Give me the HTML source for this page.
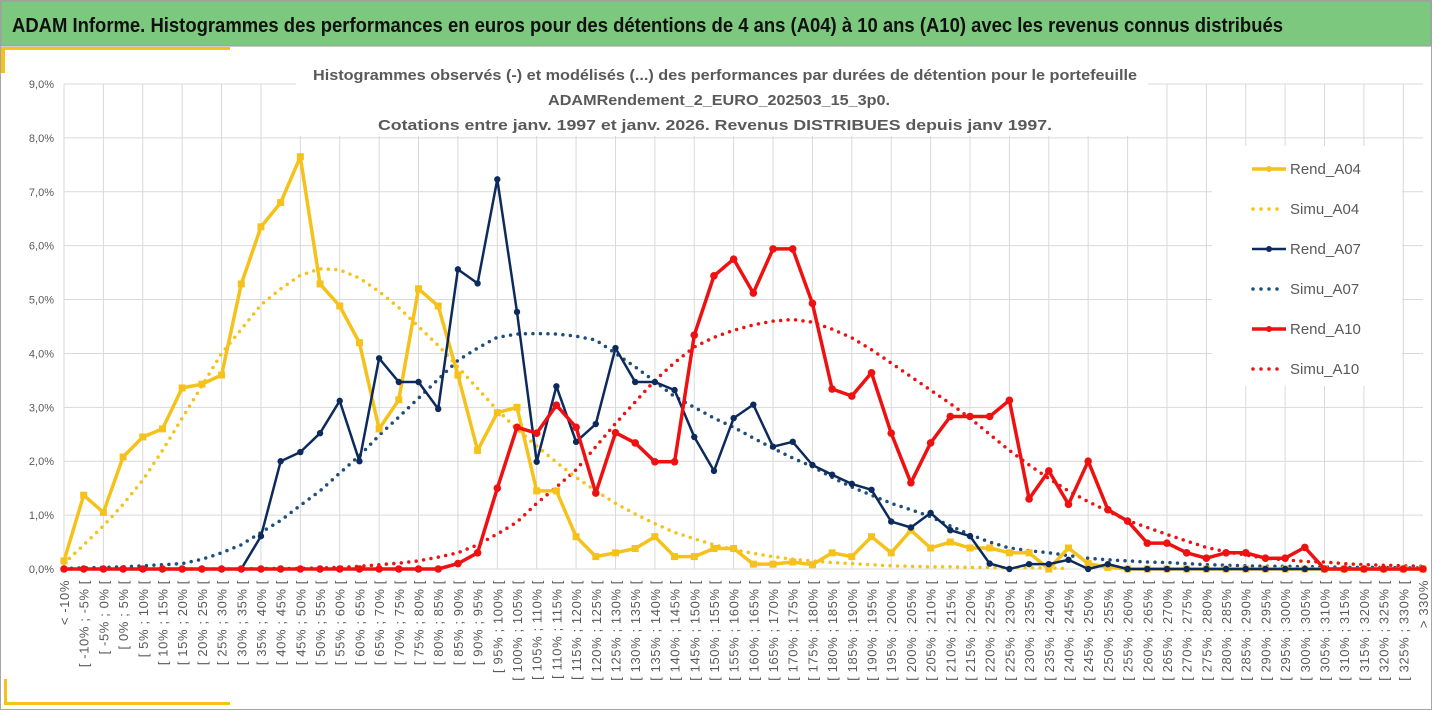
<!DOCTYPE html>
<html><head><meta charset="utf-8"><style>
body{margin:0;background:#fff;}
svg{display:block;font-family:"Liberation Sans",sans-serif;}
</style></head><body>
<svg id="chart" width="1432" height="710" xmlns="http://www.w3.org/2000/svg">
<rect x="0.5" y="0.5" width="1431" height="709" fill="#fff" stroke="#a6a6a6"/>
<rect x="1" y="1" width="1430" height="45" fill="#7dc87f" stroke="#9a9a9a"/>
<text x="12" y="32" font-size="20" font-weight="bold" fill="#111" textLength="1271" lengthAdjust="spacingAndGlyphs">ADAM Informe. Histogrammes des performances en euros pour des détentions de 4 ans (A04) à 10 ans (A10) avec les revenus connus distribués</text>
<rect x="4" y="47" width="226" height="3" fill="#f5c21b"/>
<rect x="1" y="47" width="4" height="26" fill="#f5c21b"/>
<rect x="4" y="702" width="226" height="3" fill="#f5c21b"/>
<rect x="4" y="679" width="3" height="26" fill="#f5c21b"/>
<g id="grid"></g>
<g id="yaxis"></g>
<g id="xaxis"></g>
<rect x="296" y="56" width="852" height="80" fill="#fff"/>
<rect x="1212" y="146" width="190" height="240" fill="#fff"/>
<g id="series"></g>
<g font-size="15" font-weight="bold" fill="#595959">
<text x="313" y="80" textLength="824" lengthAdjust="spacingAndGlyphs">Histogrammes observés (-) et modélisés (...) des performances par durées de détention pour le portefeuille</text>
<text x="548" y="105" textLength="342" lengthAdjust="spacingAndGlyphs">ADAMRendement_2_EURO_202503_15_3p0.</text>
<text x="378" y="130" textLength="674" lengthAdjust="spacingAndGlyphs">Cotations entre janv. 1997 et janv. 2026. Revenus DISTRIBUES depuis janv 1997.</text>
</g>
<g id="legend"></g>
</svg>
<script>
const categories = ["< -10%"];
for (let v = -10; v <= 325; v += 5) categories.push("[ " + v + "% ; " + (v + 5) + "% [");
categories.push("> 330%");
const yTicks = [0,1,2,3,4,5,6,7,8,9];
const yTickLabels = ["0,0%","1,0%","2,0%","3,0%","4,0%","5,0%","6,0%","7,0%","8,0%","9,0%"];
const rendA04 = [0.15,1.37,1.05,2.08,2.45,2.6,3.36,3.43,3.6,5.29,6.35,6.8,7.65,5.29,4.88,4.2,2.6,3.14,5.2,4.88,3.6,2.2,2.9,3.0,1.45,1.45,0.6,0.23,0.3,0.38,0.6,0.23,0.23,0.38,0.38,0.09,0.09,0.13,0.08,0.3,0.23,0.6,0.3,0.72,0.39,0.5,0.39,0.39,0.3,0.3,0,0.39,0.1,0.03,0,0,0,0,0,0,0,0,0,0,0,0,0,0,0,0];
const simuA04 = [0.1,0.45,0.8,1.2,1.65,2.2,2.8,3.4,4.0,4.45,4.9,5.2,5.45,5.57,5.55,5.4,5.15,4.85,4.5,4.15,3.75,3.35,2.95,2.6,2.28,1.98,1.7,1.45,1.22,1.02,0.84,0.68,0.56,0.45,0.36,0.29,0.23,0.18,0.15,0.12,0.1,0.08,0.06,0.05,0.04,0.04,0.03,0.03,0.02,0.02,0.02,0.01];
const rendA07 = [0,0,0,0,0,0,0,0,0,0,0.61,2.0,2.17,2.52,3.12,2.0,3.91,3.47,3.47,2.97,5.56,5.3,7.23,4.77,1.99,3.39,2.36,2.69,4.1,3.47,3.47,3.32,2.45,1.82,2.8,3.05,2.27,2.36,1.93,1.75,1.58,1.47,0.88,0.77,1.04,0.72,0.61,0.1,0,0.09,0.09,0.17,0,0.09,0,0,0,0,0,0,0,0,0,0,0,0,0,0,0,0];
const simuA07 = [0.01,0.02,0.03,0.04,0.06,0.08,0.1,0.18,0.3,0.45,0.68,0.9,1.18,1.45,1.78,2.1,2.48,2.82,3.17,3.52,3.87,4.1,4.3,4.36,4.37,4.36,4.32,4.25,4.0,3.75,3.48,3.2,3.0,2.8,2.63,2.43,2.24,2.06,1.9,1.7,1.52,1.37,1.22,1.1,0.97,0.8,0.64,0.5,0.39,0.34,0.3,0.25,0.2,0.17,0.15,0.13,0.12,0.1,0.08,0.07,0.06,0.05,0.05,0.04,0.04,0.03,0.03,0.03,0.02,0.02];
const rendA10 = [0,0,0,0,0,0,0,0,0,0,0,0,0,0,0,0,0,0,0,0,0.1,0.3,1.5,2.63,2.52,3.04,2.63,1.41,2.53,2.34,1.99,1.99,4.34,5.44,5.75,5.12,5.94,5.94,4.93,3.34,3.21,3.64,2.52,1.6,2.34,2.83,2.83,2.83,3.13,1.3,1.82,1.2,2.0,1.1,0.89,0.48,0.48,0.3,0.2,0.3,0.3,0.2,0.2,0.4,0,0,0,0,0,0];
const simuA10 = [0,0,0,0,0,0,0,0,0,0,0.01,0.01,0.01,0.02,0.03,0.05,0.08,0.11,0.15,0.22,0.3,0.45,0.65,0.87,1.22,1.52,1.84,2.27,2.7,3.1,3.5,3.83,4.12,4.3,4.43,4.53,4.6,4.63,4.58,4.45,4.29,4.07,3.82,3.57,3.32,3.07,2.8,2.5,2.2,1.93,1.68,1.45,1.25,1.07,0.9,0.77,0.64,0.52,0.4,0.32,0.26,0.2,0.17,0.14,0.13,0.1,0.08,0.07,0.06,0.05];

const NS = "http://www.w3.org/2000/svg";
const X0 = 64, X1 = 1423, Y0 = 569, Y9 = 84;
function xs(i){ return X0 + i * (X1 - X0) / (categories.length - 1); }
function ys(v){ return Y0 - v * (Y0 - Y9) / 9; }
function mk(tag, attrs, parent){ const e = document.createElementNS(NS, tag); for (const k in attrs) e.setAttribute(k, attrs[k]); parent.appendChild(e); return e; }

const grid = document.getElementById("grid");
yTicks.forEach(t => {
  const l = mk("line", {x1: X0, x2: X1, y1: ys(t), y2: ys(t), stroke: "#d9d9d9", "stroke-width": 1}, grid);
  
  
});
categories.forEach((c, i) => {
  if (i % 2 !== 0) return;
  const l = mk("line", {x1: xs(i), x2: xs(i), y1: Y9, y2: Y0, stroke: "#d9d9d9", "stroke-width": 1}, grid);
  
  
});
const yaxis = document.getElementById("yaxis");
yTicks.forEach((t, k) => {
  const tx = mk("text", {x: 54, y: ys(t) + 4, "text-anchor": "end", "font-size": 11, fill: "#595959"}, yaxis);
  tx.textContent = yTickLabels[k];
  
  
});
const xaxis = document.getElementById("xaxis");
categories.forEach((c, i) => {
  const x = xs(i) + 5, y = 580;
  const tx = mk("text", {x: x, y: y, "text-anchor": "end", "font-size": 13, "letter-spacing": 0.6, fill: "#595959", transform: "rotate(-90 " + x + " " + y + ")"}, xaxis);
  tx.textContent = c;
  
  
});

const series = document.getElementById("series");
function pts(arr){ return arr.map((v, i) => xs(i).toFixed(1) + "," + ys(v).toFixed(1)).join(" "); }
function dotted(arr, color, name){
  const p = mk("polyline", {points: pts(arr), fill: "none", stroke: color, "stroke-width": 3.5, "stroke-linecap": "round", "stroke-dasharray": "0 7.5"}, series);
  
  
}
function solid(arr, color, w, marker, name){
  const p = mk("polyline", {points: pts(arr), fill: "none", stroke: color, "stroke-width": w, "stroke-linejoin": "round"}, series);
  
  
  arr.forEach((v, i) => {
    let m;
    if (marker === "square") m = mk("rect", {x: xs(i) - 3.5, y: ys(v) - 3.5, width: 7, height: 7, fill: color}, series);
    else m = mk("circle", {cx: xs(i), cy: ys(v), r: marker, fill: color}, series);
    
    
  });
}
dotted(simuA10, "#ee1111", "simu-a10-line");
dotted(simuA07, "#1f4e79", "simu-a07-line");
dotted(simuA04, "#f5c21b", "simu-a04-line");
solid(rendA04, "#f5c21b", 3.5, "square", "rend-a04-line");
solid(rendA07, "#0d2a5c", 2.5, 3.2, "rend-a07-line");
solid(rendA10, "#ee1111", 3.5, 3.8, "rend-a10-line");

const legend = document.getElementById("legend");
const legendItems = [["Rend_A04","#f5c21b","solid"],["Simu_A04","#f5c21b","dot"],["Rend_A07","#0d2a5c","solid"],["Simu_A07","#1f4e79","dot"],["Rend_A10","#ee1111","solid"],["Simu_A10","#ee1111","dot"]];
legendItems.forEach((it, k) => {
  const y = 169 + k * 40;
  const g = mk("g", {}, legend);
  
  
  if (it[2] === "solid") {
    mk("line", {x1: 1252, x2: 1286, y1: y, y2: y, stroke: it[1], "stroke-width": it[1] === "#0d2a5c" ? 2.5 : 3.5}, g);
    mk("circle", {cx: 1269, cy: y, r: 3, fill: it[1]}, g);
  } else {
    mk("line", {x1: 1253, x2: 1281, y1: y, y2: y, stroke: it[1], "stroke-width": 3.5, "stroke-linecap": "round", "stroke-dasharray": "0 8"}, g);
  }
  const tx = mk("text", {x: 1290, y: y + 5, "font-size": 15, fill: "#595959"}, g);
  tx.textContent = it[0];
});
</script>
</body></html>
